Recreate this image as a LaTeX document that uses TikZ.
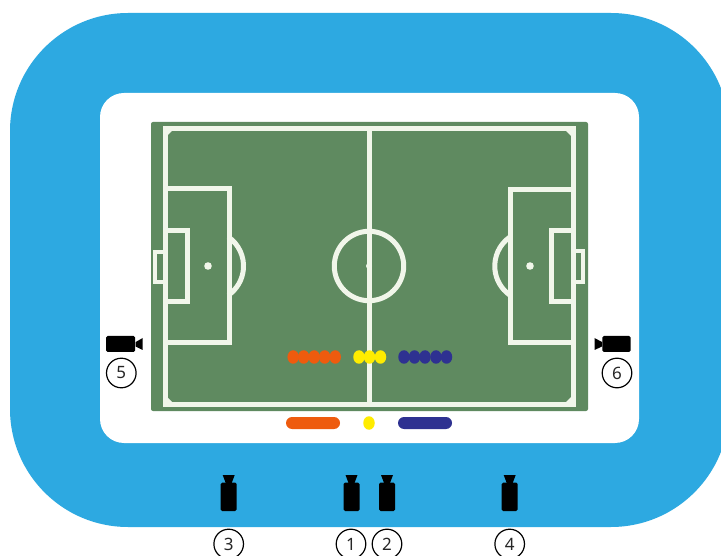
\documentclass[tikz,border=0pt]{standalone}
\usepackage{fontspec}
\setmainfont{Noto Sans}
\usetikzlibrary{shapes.geometric}
\definecolor{stadium}{HTML}{2DA9E1}
\definecolor{pitch}{HTML}{5F8A60}
\definecolor{chalk}{HTML}{F1F6EA}
\definecolor{teamA}{HTML}{EE5B0E}
\definecolor{teamB}{HTML}{2E3191}
\definecolor{ref}{HTML}{FFEC00}
\tikzset{
  x=1pt,y=-1pt,
  chalkline/.style={draw=chalk,line width=5pt},
  goalline/.style={draw=chalk,line width=3.6pt},
  camera/.style={fill=black,draw=none},
  numcircle/.style={circle,draw=black,line width=1.2pt,minimum size=29.6pt,inner sep=0pt,font=\fontsize{17}{17}\selectfont,text=black!85},
  dotp/.style={ellipse,draw=none,minimum width=11.5pt,minimum height=13.5pt,inner sep=0pt},
  bar/.style={draw=none,rounded corners=6pt}
}
\begin{document}
\begin{tikzpicture}
\useasboundingbox (0,0) rectangle (721,556);
\clip (0,0) rectangle (721,556);
\fill[white] (0,0) rectangle (721,556);
\fill[stadium,rounded corners=118pt] (10,13) rectangle (729,527);
\fill[white,rounded corners=24pt] (100,93) rectangle (639,443);
\fill[pitch,rounded corners=2pt] (151,122) rectangle (588,411);
% lines
\draw[goalline] (165,252) -| (155,282) -- (165,282);
\draw[goalline] (573,251) -| (583,282) -- (573,282);
\draw[chalkline] (165,129) rectangle (573,404);
\draw[chalkline] (369,129) -- (369,404);
\draw[chalkline] (369,266) circle (34.7);
\fill[chalk] (369,266) circle (3);
\draw[chalkline] (165,189) -| (229,343) -- (165,343);
\draw[chalkline] (165,231) -| (187,301.5) -- (165,301.5);
\fill[chalk] (208,266) circle (3.8);
\draw[chalkline] (228.4,237) arc[start angle=-55,end angle=55,radius=35.5];
\draw[chalkline] (573,189.5) -| (510,343) -- (573,343);
\draw[chalkline] (573,231) -| (551.5,301.5) -- (573,301.5);
\fill[chalk] (530,266) circle (3.8);
\draw[chalkline] (509.9,237) arc[start angle=235,end angle=125,radius=35.5];
\foreach \cx/\cy/\sx/\sy in {167/131/1/1,571/131/-1/1,167/402/1/-1,571/402/-1/-1}
  \fill[chalk] (\cx,\cy) -- ++(5*\sx,0) -- ++(-5*\sx,5*\sy) -- cycle;
% players
\foreach \i/\px in {a1/293.2,a2/303.7,a3/314.2,a4/324.7,a5/335.2}
  \node[dotp,fill=teamA] (\i) at (\px,357) {};
\foreach \i/\px in {r1/359,r2/369.5,r3/380.5}
  \node[dotp,fill=ref] (\i) at (\px,357) {};
\foreach \i/\px in {b1/404,b2/414.5,b3/425,b4/436,b5/446.5}
  \node[dotp,fill=teamB] (\i) at (\px,357) {};
\fill[teamA,bar] (286,417) rectangle (340,429);
\node[dotp,fill=ref] (rb) at (369,423) {};
\fill[teamB,bar] (398,417) rectangle (452,429);
% side cameras
\fill[camera,rounded corners=1.5pt] (106,336) rectangle (135,352);
\fill[camera] (135.7,342) -- (142.7,338) -- (142.7,350) -- (135.7,346.5) -- cycle;
\node[numcircle] (n5) at (121.3,373) {5};
\fill[camera,rounded corners=1.5pt] (602.3,336) rectangle (630.7,352);
\fill[camera] (602,342) -- (594.5,338) -- (594.5,350) -- (602,346.5) -- cycle;
\node[numcircle] (n6) at (617,373) {6};
% bottom cameras
\foreach \cx/\lab/\nx in {228.7/3/228.7,351.5/1/351,387/2/387,509.7/4/509.7}{
  \fill[camera,rounded corners=1.5pt] (\cx-8,482.7) rectangle (\cx+8,511);
  \fill[camera] (\cx-6,475) -- (\cx+6,475) -- (\cx+3,483) -- (\cx-3,483) -- cycle;
  \node[numcircle] (n\lab) at (\nx,544) {\lab};
}
\end{tikzpicture}
\end{document}
